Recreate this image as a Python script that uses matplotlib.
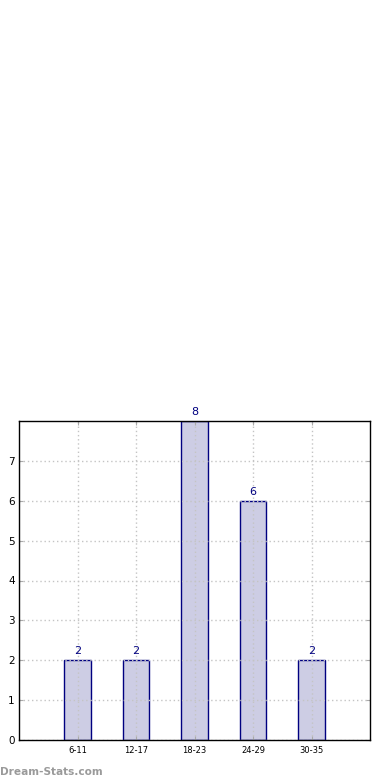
import numpy as np
import matplotlib.pyplot as plt

# age groups and counts
categories = ["6-11", "12-17", "18-23", "24-29", "30-35"]
counts = [2, 2, 8, 6, 2]

fig = plt.figure(figsize=(3.9, 7.8), dpi=100)
ax = fig.add_axes([19/390, 40/780, 351/390, 319/780])

x = np.arange(len(categories))
ax.bar(x, counts, width=0.46, color="#cdcde4", edgecolor="#000080", linewidth=1.0, zorder=1)

for xi, c in zip(x, counts):
    ax.text(xi, c + 0.1, str(c), ha="center", va="bottom", fontsize=8, color="#000080")

ax.set_xlim(-1, 5)
ax.set_ylim(0, 8)
ax.set_xticks(x)
ax.set_xticklabels(categories, fontsize=6)
ax.set_yticks(range(8))
ax.tick_params(axis="y", labelsize=7.5, length=3, direction="in", color="#aaaaaa", pad=3)
ax.tick_params(axis="x", length=3, direction="in", color="#aaaaaa", pad=4)
ax.tick_params(top=True, right=True, direction="in")
ax.grid(True, linestyle=(0, (1, 2)), color="#c4c4c4", linewidth=1.0, zorder=2)
ax.set_axisbelow(False)
for s in ax.spines.values():
    s.set_linewidth(1.0)
    s.set_zorder(5)

fig.text(0.0, 0.004, "Dream-Stats.com", fontsize=7.6, color="#9a9a9a", fontweight="bold", ha="left", va="bottom")

fig.savefig("out.png", dpi=100)
